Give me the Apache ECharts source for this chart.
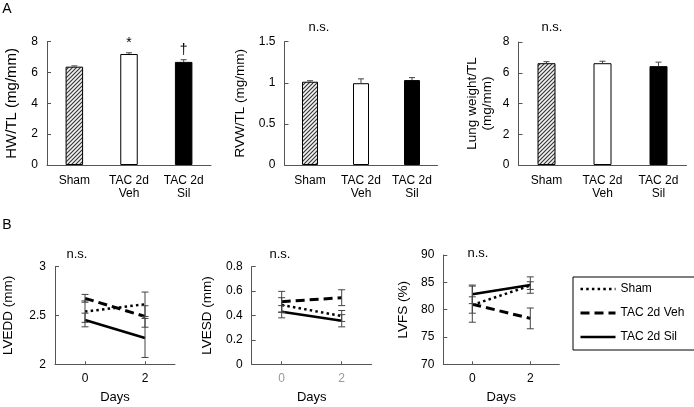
<!DOCTYPE html>
<html><head><meta charset="utf-8">
<script src="https://cdn.jsdelivr.net/npm/echarts@6/dist/echarts.min.js"></script>
<style>html,body{margin:0;padding:0;background:#fff}#c{width:694px;height:407px}</style>
</head><body><div id="c"></div>
<script>
// ---- data ----
const groups = ['Sham', 'TAC 2d\nVeh', 'TAC 2d\nSil'];
const hwtl = [6.38, 7.2, 6.69];
const hwtlErr = [0.05, 0.08, 0.14];
const hwtlSig = ['', '*', '†'];
const rvwtl = [1.013, 0.995, 1.033];
const rvwtlErr = [0.012, 0.053, 0.03];
const lungtl = [6.62, 6.62, 6.43];
const lungtlErr = [0.1, 0.13, 0.26];

const days = [0, 2];
const seriesNames = ['Sham', 'TAC 2d Veh', 'TAC 2d Sil'];
const lveddSham = [2.54, 2.615], lveddShamErr = [0.11, 0.125];
const lveddVeh = [2.676, 2.49], lveddVehErr = [0.04, 0.11];
const lveddSil = [2.454, 2.27], lveddSilErr = [0.07, 0.2];
const lvesdSham = [0.486, 0.396], lvesdShamErr = [0.06, 0.045];
const lvesdVeh = [0.513, 0.546], lvesdVehErr = [0.085, 0.065];
const lvesdSil = [0.431, 0.357], lvesdSilErr = [0.05, 0.05];
const lvfsSham = [80.85, 84.4], lvfsShamErr = [1.5, 0.7];
const lvfsVeh = [81.0, 78.4], lvfsVehErr = [3.3, 1.9];
const lvfsSil = [82.8, 84.5], lvfsSilErr = [1.7, 1.5];

// ---- styles ----
const FONT = 'Liberation Sans, Arial, sans-serif';
const AXC = '#555';
const ERC = '#444';
function hatch() {
  const c = document.createElement('canvas'); c.width = 4; c.height = 4;
  const g = c.getContext('2d');
  g.fillStyle = '#f2f2f2'; g.fillRect(0, 0, 4, 4);
  g.strokeStyle = '#333'; g.lineWidth = 1.1; g.beginPath();
  g.moveTo(0, 4); g.lineTo(4, 0); g.moveTo(-1, 1); g.lineTo(1, -1); g.moveTo(3, 5); g.lineTo(5, 3);
  g.stroke(); return c;
}
const barStyles = [
  {color: {image: hatch(), repeat: 'repeat'}, borderColor: '#000', borderWidth: 1},
  {color: '#fff', borderColor: '#000', borderWidth: 1},
  {color: '#000', borderColor: '#000', borderWidth: 1}
];
const lineStyles = [
  {color: '#000', width: 2.5, type: [2.5, 3.2]},
  {color: '#000', width: 3, type: [9, 5]},
  {color: '#000', width: 2.5, type: 'solid'}
];

const grids = [
  {left: 47, top: 41.7, width: 164, height: 123.3},
  {left: 284.5, top: 41.7, width: 153, height: 123.3},
  {left: 518.5, top: 42, width: 168, height: 123},
  {left: 55, top: 266.7, width: 120, height: 97.6},
  {left: 251.7, top: 266.7, width: 120, height: 97.6},
  {left: 443.3, top: 255, width: 116, height: 109.3}
];

function yAx(gi, min, max, interval, name, nameGap, nameSize) {
  return {type: 'value', gridIndex: gi, min, max, interval,
    name, nameLocation: 'middle', nameGap, nameRotate: 90,
    nameTextStyle: {fontSize: nameSize, color: '#000', fontFamily: FONT, lineHeight: nameSize + 1.5},
    axisLine: {show: true, onZero: false, lineStyle: {color: AXC, width: 1}},
    axisTick: {show: true, inside: true, length: 4, lineStyle: {color: AXC}},
    axisLabel: {fontSize: 12, color: '#000', margin: 9, fontFamily: FONT},
    splitLine: {show: false}};
}
function xCat(gi) {
  return {type: 'category', gridIndex: gi, data: groups,
    axisLine: {show: true, onZero: false, lineStyle: {color: AXC, width: 1}},
    axisTick: {show: false},
    axisLabel: {fontSize: 12, color: '#000', margin: 9, interval: 0, lineHeight: 13, fontFamily: FONT}};
}
function xDays(gi, labelColor) {
  return {type: 'value', gridIndex: gi, min: -1, max: 3,
    name: 'Days', nameLocation: 'middle', nameGap: 27,
    nameTextStyle: {fontSize: 13, color: '#000', fontFamily: FONT},
    axisLine: {show: true, onZero: false, lineStyle: {color: AXC, width: 1}},
    axisTick: {show: true, inside: true, length: 3, customValues: days, lineStyle: {color: AXC}},
    axisLabel: {fontSize: 12, color: labelColor, margin: 8, customValues: days, fontFamily: FONT},
    splitLine: {show: false}};
}

function barSeries(gi, vals, bw) {
  return {type: 'bar', xAxisIndex: gi, yAxisIndex: gi, barWidth: bw, silent: true,
    data: vals.map((v, i) => ({value: v, itemStyle: barStyles[i]}))};
}
function barErr(gi, vals, errs, sig) {
  return {type: 'custom', xAxisIndex: gi, yAxisIndex: gi, silent: true, z: 5,
    data: vals.map((v, i) => [i, v, errs[i]]),
    renderItem(params, api) {
      const x = api.value(0), v = api.value(1), e = api.value(2);
      const p0 = api.coord([x, v]), p1 = api.coord([x, v + e]);
      const ch = [
        {type: 'line', shape: {x1: p0[0], y1: p0[1], x2: p1[0], y2: p1[1]}, style: {stroke: ERC, lineWidth: 1}},
        {type: 'line', shape: {x1: p1[0] - 3, y1: p1[1], x2: p1[0] + 3, y2: p1[1]}, style: {stroke: ERC, lineWidth: 1}}
      ];
      const s = sig ? sig[params.dataIndex] : '';
      if (s) ch.push({type: 'text', style: {text: s, x: p1[0], y: p1[1] - 3, align: 'center', verticalAlign: 'bottom',
        fontSize: 14, fontFamily: FONT, fill: '#000'}});
      return {type: 'group', children: ch};
    }};
}
function lineSeries(gi, k, vals) {
  return {type: 'line', name: seriesNames[k], xAxisIndex: gi, yAxisIndex: gi, symbol: 'none', silent: true,
    lineStyle: lineStyles[k], itemStyle: {color: '#000'}, z: 3,
    data: days.map((d, i) => [d, vals[i]])};
}
function lineErr(gi, vals, errs) {
  return {type: 'custom', xAxisIndex: gi, yAxisIndex: gi, silent: true, z: 4,
    data: days.map((d, i) => [d, vals[i], errs[i]]),
    renderItem(params, api) {
      const x = api.value(0), v = api.value(1), e = api.value(2);
      const t = api.coord([x, v + e]), b = api.coord([x, v - e]);
      const st = {stroke: ERC, lineWidth: 1};
      return {type: 'group', children: [
        {type: 'line', shape: {x1: t[0], y1: t[1], x2: b[0], y2: b[1]}, style: st},
        {type: 'line', shape: {x1: t[0] - 3.5, y1: t[1], x2: t[0] + 3.5, y2: t[1]}, style: st},
        {type: 'line', shape: {x1: b[0] - 3.5, y1: b[1], x2: b[0] + 3.5, y2: b[1]}, style: st}
      ]};
    }};
}

function txt(text, x, y, size, extra) {
  return Object.assign({type: 'text', x, y, style: {text, fontSize: size, fontFamily: FONT, fill: '#000',
    align: 'center', verticalAlign: 'middle'}}, extra || {});
}

const option = {
  animation: false,
  textStyle: {fontFamily: FONT},
  grid: grids,
  xAxis: [xCat(0), xCat(1), xCat(2), xDays(3, '#000'), xDays(4, '#999'), xDays(5, '#000')],
  yAxis: [
    yAx(0, 0, 8, 2, 'HW/TL (mg/mm)', 27, 15),
    yAx(1, 0, 1.5, 0.5, 'RVW/TL (mg/mm)', 37, 13.5),
    yAx(2, 0, 8, 2, 'Lung weight/TL\n(mg/mm)', 24, 13.5),
    yAx(3, 2, 3, 0.5, 'LVEDD (mm)', 39, 13.5),
    yAx(4, 0, 0.8, 0.2, 'LVESD (mm)', 37, 13.5),
    yAx(5, 70, 90, 5, 'LVFS (%)', 33, 13.5)
  ],
  legend: {
    data: seriesNames, orient: 'vertical', left: 573, top: 277,
    itemWidth: 35, itemHeight: 10, itemGap: 12,
    borderColor: '#000', borderWidth: 1, borderRadius: 0, padding: [6, 12, 7, 6],
    textStyle: {fontSize: 12, color: '#000', fontFamily: FONT},
    itemStyle: {color: 'rgba(0,0,0,0)', borderWidth: 0, opacity: 0},
    lineStyle: {width: 'inherit'}, selectedMode: false
  },
  series: [
    barSeries(0, hwtl, 17.5), barErr(0, hwtl, hwtlErr, hwtlSig),
    barSeries(1, rvwtl, 16), barErr(1, rvwtl, rvwtlErr),
    barSeries(2, lungtl, 18), barErr(2, lungtl, lungtlErr),
    lineSeries(3, 0, lveddSham), lineSeries(3, 1, lveddVeh), lineSeries(3, 2, lveddSil),
    lineErr(3, lveddSham, lveddShamErr), lineErr(3, lveddVeh, lveddVehErr), lineErr(3, lveddSil, lveddSilErr),
    lineSeries(4, 0, lvesdSham), lineSeries(4, 1, lvesdVeh), lineSeries(4, 2, lvesdSil),
    lineErr(4, lvesdSham, lvesdShamErr), lineErr(4, lvesdVeh, lvesdVehErr), lineErr(4, lvesdSil, lvesdSilErr),
    lineSeries(5, 0, lvfsSham), lineSeries(5, 1, lvfsVeh), lineSeries(5, 2, lvfsSil),
    lineErr(5, lvfsSham, lvfsShamErr), lineErr(5, lvfsVeh, lvfsVehErr), lineErr(5, lvfsSil, lvfsSilErr)
  ],
  graphic: [
    txt('A', 7, 9, 14),
    txt('B', 7, 225.5, 14),
    txt('n.s.', 319, 27, 13),
    txt('n.s.', 552, 27, 13),
    txt('n.s.', 77, 254, 13),
    txt('n.s.', 280, 254, 13),
    txt('n.s.', 478, 253, 13)
  ]
};
const chart = echarts.init(document.getElementById('c'), null, {renderer: 'canvas'});
chart.setOption(option);
</script></body></html>
